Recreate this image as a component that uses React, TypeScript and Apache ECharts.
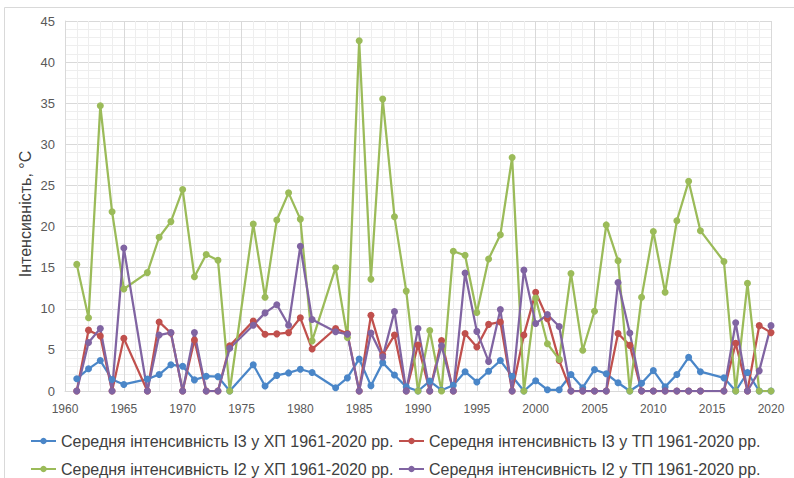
import React, { useEffect, useRef } from "react";
import * as echarts from "echarts";

const years = [
  1961, 1962, 1963, 1964, 1965, 1966, 1967, 1968, 1969, 1970,
  1971, 1972, 1973, 1974, 1975, 1976, 1977, 1978, 1979, 1980,
  1981, 1982, 1983, 1984, 1985, 1986, 1987, 1988, 1989, 1990,
  1991, 1992, 1993, 1994, 1995, 1996, 1997, 1998, 1999, 2000,
  2001, 2002, 2003, 2004, 2005, 2006, 2007, 2008, 2009, 2010,
  2011, 2012, 2013, 2014, 2015, 2016, 2017, 2018, 2019, 2020,
];

// Середня інтенсивність І3 у ХП
const i3Hp = [
  1.5, 2.7, 3.7, 1.4, 0.8, null, 1.45, 2.0, 3.2, 3.0,
  1.35, 1.8, 1.75, 0, null, 3.2, 0.6, 1.9, 2.2, 2.65,
  2.25, null, 0.4, 1.6, 3.9, 0.65, 3.45, 1.95, 0.5, 0,
  1.2, 0.1, 0.7, 2.35, 1.1, 2.4, 3.7, 1.8, 0, 1.25,
  0.15, 0.15, 2.0, 0.4, 2.6, 2.1, 1.0, 0, 0.95, 2.5,
  0.5, 2.0, 4.1, 2.35, null, 1.6, 0, 2.25, 0, 0,
];

// Середня інтенсивність І3 у ТП
const i3Tp = [
  0, 7.4, 6.7, 0, 6.4, null, 0, 8.4, 7.05, 0,
  6.2, 0, 0, 5.5, null, 8.5, 6.9, 6.95, 7.1, 8.9,
  5.1, null, 7.6, 7.0, 0, 9.2, 4.4, 6.8, 0, 5.6,
  0, 6.15, 0, 7.0, 5.35, 8.1, 8.4, 0, 6.8, 12.0,
  8.8, 3.7, 0, 0, 0, 0, 7.0, 5.55, 0, 0,
  0, 0, 0, 0, null, 0, 5.8, 0, 7.95, 7.1,
];

// Середня інтенсивність І2 у ХП
const i2Hp = [
  15.4, 8.9, 34.7, 21.8, 12.4, null, 14.4, 18.7, 20.6, 24.5,
  13.9, 16.6, 15.9, 0, null, 20.3, 11.4, 20.8, 24.1, 20.9,
  6.1, null, 15.0, 6.5, 42.6, 13.6, 35.5, 21.2, 12.15, 0,
  7.35, 0, 17.0, 16.5, 9.55, 16.05, 19.0, 28.4, 0, 11.3,
  5.75, 3.85, 14.3, 4.95, 9.7, 20.2, 15.85, 0, 11.4, 19.4,
  12.0, 20.7, 25.5, 19.5, null, 15.75, 0, 13.1, 0, 0,
];

// Середня інтенсивність І2 у ТП
const i2Tp = [
  0, 5.9, 7.6, 0, 17.4, null, 0, 6.8, 7.1, 0,
  7.1, 0, 0, 5.2, null, 8.0, 9.5, 10.5, 8.0, 17.6,
  8.7, null, 7.2, 6.9, 0, 7.05, 4.15, 9.65, 0, 7.6,
  0, 5.5, 0, 14.35, 7.25, 3.6, 9.9, 0, 14.7, 8.2,
  9.3, 7.85, 0, 0, 0, 0, 13.2, 7.05, 0, 0,
  0, 0, 0, 0, null, 0, 8.3, 0, 2.45, 7.95,
];

const seriesNames = [
  "Середня інтенсивність І3 у ХП 1961-2020 рр.",
  "Середня інтенсивність І3 у ТП 1961-2020 рр.",
  "Середня інтенсивність І2 у ХП 1961-2020 рр.",
  "Середня інтенсивність І2 у ТП 1961-2020 рр.",
];
const seriesValues = [i3Hp, i3Tp, i2Hp, i2Tp];
const seriesColors = ["#4a86c8", "#c0504d", "#9bbb59", "#8064a2"];

const yAxisName = "Інтенсивність, °C";

const FONT = "'Liberation Sans', Arial, sans-serif";

function toPairs(vals: (number | null)[]) {
  const out: [number, number][] = [];
  years.forEach((y, i) => {
    const v = vals[i];
    if (v !== null && v !== undefined) out.push([y, v]);
  });
  return out;
}

export default function App() {
  const ref = useRef<HTMLDivElement>(null);
  useEffect(() => {
    if (!ref.current) return;
    const chart = echarts.init(ref.current, null, { renderer: "svg" });
    const legendPos = [
      { left: 25, top: 428 },
      { left: 393, top: 428 },
      { left: 25, top: 456 },
      { left: 393, top: 456 },
    ];
    chart.setOption({
      animation: false,
      backgroundColor: "#ffffff",
      textStyle: { fontFamily: FONT },
      graphic: [
        {
          type: "rect",
          silent: true,
          shape: { x: 4.5, y: 7.5, width: 800, height: 480 },
          style: { fill: "none", stroke: "#d9d9d9", lineWidth: 1 },
        },
        {
          type: "text",
          silent: true,
          x: 25,
          y: 214,
          rotation: Math.PI / 2,
          style: {
            text: yAxisName,
            fill: "#404040",
            font: "16px 'Liberation Sans', Arial, sans-serif",
            align: "center",
            verticalAlign: "middle",
          },
        },
      ],
      grid: { left: 65, right: 23, top: 21, bottom: 87, containLabel: false },
      legend: seriesNames.map((n, i) => ({
        data: [n],
        left: legendPos[i].left,
        top: legendPos[i].top,
        itemWidth: 25,
        itemHeight: 8,
        selectedMode: false,
        textStyle: { fontFamily: FONT, fontSize: 16, color: "#404040" },
      })),
      xAxis: {
        type: "value",
        min: 1960,
        max: 2020,
        interval: 5,
        axisLine: { show: true, lineStyle: { color: "#d9d9d9" } },
        axisTick: { show: false },
        axisLabel: {
          color: "#595959",
          fontSize: 12,
          margin: 12,
          fontFamily: FONT,
          formatter: (v: number) => String(v),
        },
        splitLine: { show: true, lineStyle: { color: "#d9d9d9", width: 1 } },
        minorTick: { show: false, splitNumber: 5 },
        minorSplitLine: { show: true, lineStyle: { color: "#eeeeee", width: 1 } },
      },
      yAxis: {
        type: "value",
        min: 0,
        max: 45,
        interval: 5,
        axisLine: { show: true, lineStyle: { color: "#d9d9d9" } },
        axisTick: { show: false },
        axisLabel: { color: "#595959", fontSize: 13, margin: 10, fontFamily: FONT },
        splitLine: { show: true, lineStyle: { color: "#d9d9d9", width: 1 } },
        minorTick: { show: false, splitNumber: 5 },
        minorSplitLine: { show: true, lineStyle: { color: "#eeeeee", width: 1 } },
      },
      series: seriesNames.map((n, i) => ({
        name: n,
        type: "line",
        data: toPairs(seriesValues[i]),
        symbol: "circle",
        symbolSize: 7,
        showAllSymbol: true,
        lineStyle: { width: 2.25, color: seriesColors[i] },
        itemStyle: { color: seriesColors[i] },
        emphasis: { disabled: true },
      })),
    });
    return () => chart.dispose();
  }, []);
  return (
    <div
      ref={ref}
      style={{ position: "fixed", left: 0, top: 0, width: 794, height: 478 }}
    />
  );
}
